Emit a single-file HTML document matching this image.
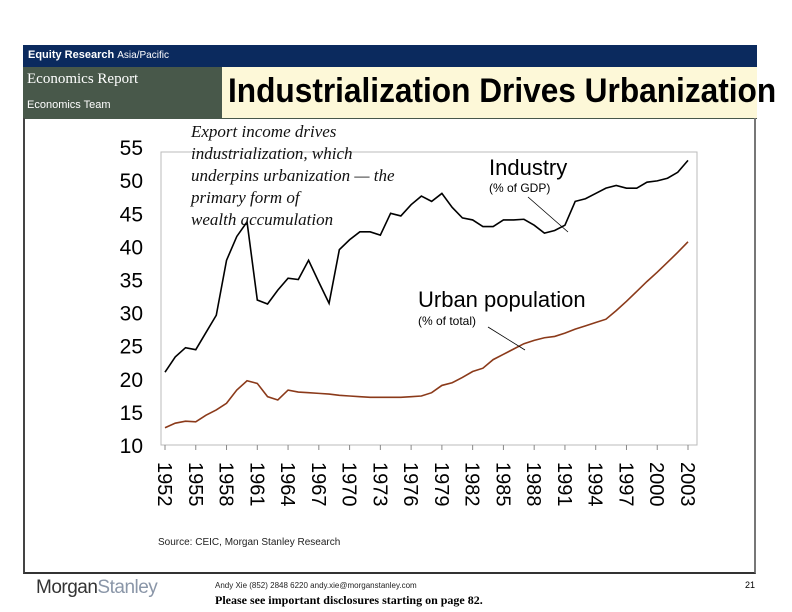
<!DOCTYPE html>
<html><head><meta charset="utf-8"><style>
body{margin:0;width:792px;height:612px;background:#fff;position:relative;overflow:hidden;font-family:"Liberation Sans",sans-serif}
.abs{position:absolute}
</style></head><body>
<div class="abs" style="left:23px;top:45px;width:734px;height:22px;background:#0b2a5e"></div>
<div class="abs" style="left:28px;top:49px;color:#fff;font-size:11px"><b>Equity Research</b> <span style="font-size:10px">Asia/Pacific</span></div>
<div class="abs" style="left:23px;top:67px;width:734px;height:52px;background:#48584a"></div>
<div class="abs" style="left:27px;top:71px;color:#fff;font-family:'Liberation Serif',serif;font-size:15px">Economics Report</div>
<div class="abs" style="left:27px;top:99px;color:#fff;font-size:11px">Economics Team</div>
<div class="abs" style="left:222px;top:67px;width:535px;height:51px;background:#fdf8d8"></div>
<div class="abs" style="left:228px;top:72px;font-size:34px;font-weight:bold;color:#000;white-space:nowrap;transform:scaleX(0.93);transform-origin:left">Industrialization Drives Urbanization</div>
<div class="abs" style="left:23px;top:118px;width:733px;height:456px;border-left:2px solid #444;border-right:2px solid #777;border-bottom:2px solid #333;box-sizing:border-box"></div>
<svg class="abs" style="left:0;top:0" width="792" height="612">
<g id="g"></g>
</svg>
<div class="abs" style="left:191px;top:121px;font-family:'Liberation Serif',serif;font-style:italic;font-size:17px;line-height:22px;color:#111">Export income drives<br>industrialization, which<br>underpins urbanization — the<br>primary form of<br>wealth accumulation</div>
<div class="abs" style="left:158px;top:537px;font-size:10px;color:#222">Source: CEIC, Morgan Stanley Research</div>
<div class="abs" style="left:36px;top:577px;font-size:19px;color:#333;letter-spacing:-0.5px">Morgan<span style="color:#8a96a8">Stanley</span></div>
<div class="abs" style="left:215px;top:581px;font-size:8px;color:#222">Andy Xie (852) 2848 6220 andy.xie@morganstanley.com</div>
<div class="abs" style="left:215px;top:593px;font-family:'Liberation Serif',serif;font-weight:bold;font-size:12px">Please see important disclosures starting on page 82.</div>
<div class="abs" style="left:745px;top:580px;font-size:9px">21</div>
<script>
const years=[];for(let y=1952;y<=2003;y++)years.push(y);
const industry=[21,23.3,24.7,24.4,27,29.6,37.9,41.5,43.7,31.9,31.3,33.4,35.2,35,37.9,34.6,31.4,39.5,41,42.2,42.2,41.7,45,44.6,46.3,47.6,46.8,48,45.9,44.3,44,43,43,44,44,44.1,43.2,42,42.4,43.2,46.8,47.2,48,48.8,49.2,48.8,48.8,49.7,49.9,50.3,51.2,53];
const urban=[12.6,13.3,13.6,13.5,14.5,15.3,16.3,18.3,19.7,19.3,17.3,16.8,18.3,18,17.9,17.8,17.7,17.5,17.4,17.3,17.2,17.2,17.2,17.2,17.3,17.4,17.9,19,19.4,20.2,21.1,21.6,22.9,23.7,24.5,25.3,25.8,26.2,26.4,26.9,27.5,28,28.5,29,30.3,31.7,33.2,34.7,36.1,37.6,39.1,40.7];
const yTicks=[10,15,20,25,30,35,40,45,50,55];
const xTicks=[1952,1955,1958,1961,1964,1967,1970,1973,1976,1979,1982,1985,1988,1991,1994,1997,2000,2003];
const X=y=>165+(y-1952)*(688-165)/51, Y=v=>445-(v-10)*6.62;
const NS='http://www.w3.org/2000/svg',g=document.getElementById('g');
function mk(t,a){const e=document.createElementNS(NS,t);for(const k in a)e.setAttribute(k,a[k]);g.appendChild(e);return e;}
let e=mk('rect',{x:161,y:152,width:536,height:293,fill:'none',stroke:'#bbb','stroke-width':1});


yTicks.forEach(v=>{const t=mk('text',{x:143,y:Y(v)+8,'text-anchor':'end','font-size':21,fill:'#000','font-family':'Liberation Sans'});t.textContent=v;

});
xTicks.forEach(v=>{const x=X(v);const tk=mk('line',{x1:x,x2:x,y1:445,y2:450,stroke:'#888'});


const t=mk('text',{transform:`translate(${x-7},462) rotate(90)`,'font-size':20,fill:'#000','font-family':'Liberation Sans'});t.textContent=v;

});
const pi=mk('polyline',{points:years.map((y,i)=>X(y)+','+Y(industry[i])).join(' '),fill:'none',stroke:'#000','stroke-width':1.6});


const pu=mk('polyline',{points:years.map((y,i)=>X(y)+','+Y(urban[i])).join(' '),fill:'none',stroke:'#8b3a1a','stroke-width':1.6});


function lab(x,y,s,t,n){const e=mk('text',{x,y,'font-size':s,fill:'#000','font-family':'Liberation Sans'});e.textContent=t;

}
lab(489,175,22,'Industry','industry-label');lab(489,192,12,'(% of GDP)','industry-unit');
lab(418,307,22,'Urban population','urban-label');lab(418,325,12,'(% of total)','urban-unit');
const a1=mk('line',{x1:528,y1:197,x2:568,y2:232,stroke:'#000','stroke-width':0.8});


const a2=mk('line',{x1:488,y1:327,x2:525,y2:350,stroke:'#000','stroke-width':0.8});


</script>
</body></html>
